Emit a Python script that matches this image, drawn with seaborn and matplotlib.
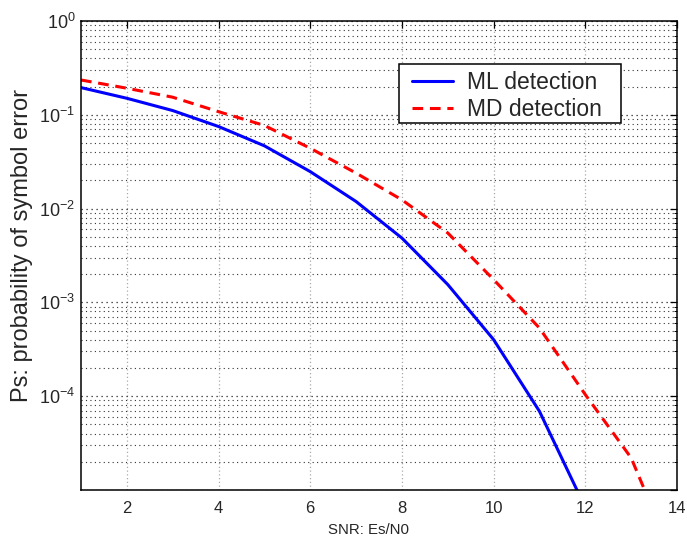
import numpy as np
import pandas as pd
import matplotlib
matplotlib.use("Agg")
import matplotlib.pyplot as plt
import matplotlib.ticker as mticker
from matplotlib.patches import Rectangle
import seaborn as sns

# ---- data ----
snr_ml = [1, 2, 3, 4, 5, 6, 7, 8, 9, 10, 11, 12]
ps_ml = [0.195, 0.150, 0.111, 0.075, 0.0467, 0.0248, 0.0119, 0.00485,
         0.00155, 0.000401, 6.9e-5, 6.5e-6]
snr_md = [1, 2, 3, 4, 5, 6, 7, 8, 9, 10, 11, 12, 13, 14]
ps_md = [0.235, 0.192, 0.154, 0.108, 0.077, 0.044, 0.0239, 0.0124,
         0.0055, 0.00175, 0.000533, 0.000104, 2.2e-5, 1.5e-6]
labels = ["ML detection", "MD detection"]
x_ticks = [2, 4, 6, 8, 10, 12, 14]
y_ticks = [1e-5, 1e-4, 1e-3, 1e-2, 1e-1, 1e0]

df_ml = pd.DataFrame({"snr": snr_ml, "ps": ps_ml})
df_md = pd.DataFrame({"snr": snr_md, "ps": ps_md})

sns.set_style("white")
plt.rcParams["font.family"] = ["Liberation Sans", "DejaVu Sans"]
plt.rcParams["mathtext.fontset"] = "custom"
plt.rcParams["mathtext.rm"] = "Liberation Sans"
plt.rcParams["mathtext.it"] = "Liberation Sans:italic"
plt.rcParams["mathtext.bf"] = "Liberation Sans:bold"

W, H = 687, 536
fig = plt.figure(figsize=(W / 100, H / 100), dpi=100)
AX_L, AX_B, AX_W, AX_H = 81, 46, 596, 469
ax = fig.add_axes([AX_L / W, AX_B / H, AX_W / W, AX_H / H])

sns.lineplot(data=df_ml, x="snr", y="ps", ax=ax, color="#0000ff",
             linewidth=2.2, label=labels[0])
sns.lineplot(data=df_md, x="snr", y="ps", ax=ax, color="#ff0000",
             linewidth=2.2, linestyle=(0, (3.5, 2.2)), label=labels[1])

ax.set_yscale("log")
ax.set_xlim(1, 14)
ax.set_ylim(1e-5, 1e0)
ax.set_xticks(x_ticks)
ax.set_xticklabels([str(t) for t in x_ticks])
ax.set_yticks(y_ticks)
ax.set_yticklabels([""] + [r"$10^{%d}$" % int(np.log10(t)) for t in y_ticks[1:]])
ax.yaxis.set_minor_locator(mticker.LogLocator(base=10, subs=np.arange(2, 10), numticks=20))
ax.yaxis.set_minor_formatter(mticker.NullFormatter())

# grids (MATLAB-like dotted)
ax.grid(False)
ax.xaxis.grid(True, which="major", color="#aaaaaa", linestyle=(0, (1, 2)), linewidth=0.9)
ax.yaxis.grid(True, which="major", color="#222222", linestyle=(0, (1, 3)), linewidth=0.9)
ax.yaxis.grid(True, which="minor", color="#333333", linestyle=(0, (1, 3)), linewidth=0.8)
ax.set_axisbelow(True)

for sp in ax.spines.values():
    sp.set_visible(True)
    sp.set_color("black")
    sp.set_linewidth(1.1)

ax.tick_params(which="both", direction="in", top=True, right=True, color="black")
ax.tick_params(which="major", length=5, width=0.9)
ax.tick_params(which="minor", length=2.5, width=0.7)
ax.tick_params(axis="x", labelsize=12, pad=8)
ax.tick_params(axis="y", labelsize=13, pad=4)

ax.set_xlabel("SNR: Es/N0", fontsize=10.8)
ax.set_ylabel("Ps: probability of symbol error", fontsize=17)
ax.xaxis.set_label_coords(0.5 - 10 / AX_W, -33 / AX_H)
ax.yaxis.set_label_coords(-48 / AX_W, 0.5 + 10 / AX_H)

# legend: MATLAB-style box (white, black edge) with content placed inside
box_x0, box_x1, box_top, box_bot = 399, 621, 64, 123  # image px
frame = Rectangle(((box_x0 - AX_L) / AX_W, (H - box_bot - AX_B) / AX_H),
                  (box_x1 - box_x0) / AX_W, (box_bot - box_top) / AX_H,
                  transform=ax.transAxes, facecolor="white", edgecolor="black",
                  linewidth=1.1, zorder=4.5)
ax.add_patch(frame)
leg = ax.legend(loc="upper left", bbox_to_anchor=((412 - AX_L) / AX_W, (H - AX_B - 71) / AX_H),
                fontsize=16.5, frameon=False, borderpad=0,
                handlelength=1.79, handletextpad=0.61, labelspacing=0.16,
                borderaxespad=0)
leg.set_zorder(5)

fig.savefig("out.png", dpi=100)
